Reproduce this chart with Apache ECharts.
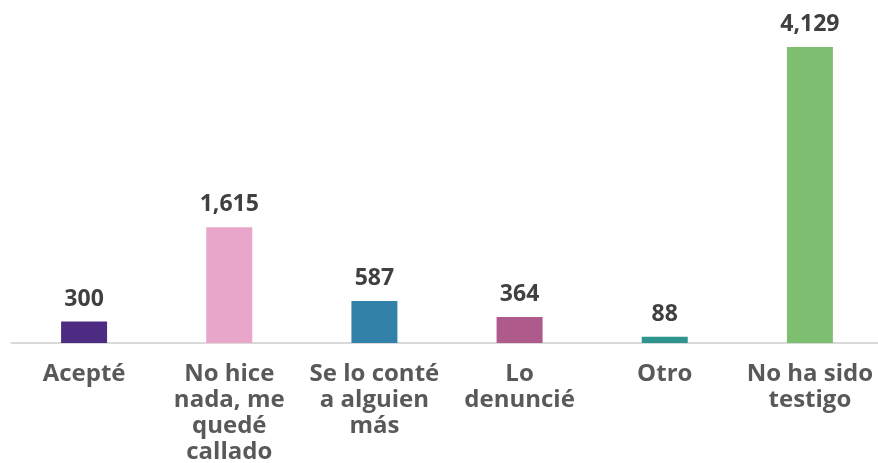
<!DOCTYPE html>
<html><head><meta charset="utf-8">
<script src="https://cdn.jsdelivr.net/npm/echarts@6/dist/echarts.min.js"></script>
<style>html,body{margin:0;padding:0;background:#fff}#c{width:878px;height:463px}</style>
</head><body><div id="c"></div>
<script>
const categories = ["Acepté", "No hice\nnada, me\nquedé\ncallado", "Se lo conté\na alguien\nmás", "Lo\ndenuncié", "Otro", "No ha sido\ntestigo"];
const values = [300, 1615, 587, 364, 88, 4129];
const colors = ["#4d2b82", "#e8a6cb", "#3281a9", "#ae5b8b", "#2e958e", "#7ebf72"];

const chart = echarts.init(document.getElementById('c'), null, {renderer: 'canvas'});
chart.setOption({
  animation: false,
  grid: {left: 11.5, right: -4.5, top: 47, bottom: 120, containLabel: false, outerBoundsMode: 'none'},
  xAxis: {
    type: 'category',
    data: categories,
    axisLine: {lineStyle: {color: '#d9d9d9', width: 2}},
    axisTick: {show: false},
    axisLabel: {
      interval: 0, margin: 18, hideOverlap: false,
      fontFamily: 'Open Sans', fontWeight: 'bold', fontSize: 24,
      lineHeight: 26, color: '#595959'
    }
  },
  yAxis: {type: 'value', min: 0, max: 4129, show: false, splitLine: {show: false}},
  series: [{
    type: 'bar',
    barWidth: 46,
    data: values.map((v, i) => ({value: v, itemStyle: {color: colors[i]}})),
    label: {
      show: true, position: 'top', distance: 11,
      fontFamily: 'Open Sans', fontWeight: 'bold', fontSize: 23, color: '#404040',
      formatter: p => p.value.toLocaleString('en-US')
    }
  }]
});
</script></body></html>
